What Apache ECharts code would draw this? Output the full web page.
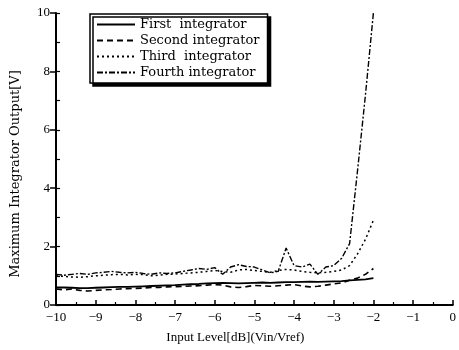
<!DOCTYPE html>
<html>
<head>
<meta charset="utf-8">
<script src="https://cdn.jsdelivr.net/npm/echarts@6/dist/echarts.min.js"></script>
<style>html,body{margin:0;padding:0;background:#fff}#c{width:459px;height:350px}</style>
</head>
<body>
<div id="c"></div>
<script>
const xValues = [-10,-9.8,-9.6,-9.4,-9.2,-9,-8.8,-8.6,-8.4,-8.2,-8,-7.8,-7.6,-7.4,-7.2,-7,-6.8,-6.6,-6.4,-6.2,-6,-5.8,-5.6,-5.4,-5.2,-5,-4.8,-4.6,-4.4,-4.2,-4,-3.8,-3.6,-3.4,-3.2,-3,-2.8,-2.6,-2.4,-2.2,-2];
const firstIntegrator = [0.60,0.60,0.59,0.58,0.58,0.59,0.60,0.61,0.62,0.62,0.63,0.64,0.65,0.66,0.67,0.68,0.70,0.71,0.72,0.74,0.75,0.76,0.75,0.74,0.75,0.76,0.77,0.76,0.77,0.78,0.78,0.79,0.80,0.79,0.80,0.81,0.82,0.84,0.86,0.88,0.92];
const secondIntegrator = [0.55,0.52,0.55,0.50,0.48,0.50,0.52,0.53,0.55,0.56,0.57,0.58,0.60,0.60,0.62,0.63,0.64,0.65,0.66,0.68,0.70,0.68,0.62,0.60,0.63,0.67,0.66,0.64,0.66,0.68,0.70,0.65,0.62,0.64,0.68,0.72,0.76,0.85,0.92,1.05,1.25];
const thirdIntegrator = [1.00,0.98,0.96,0.95,0.97,1.00,1.02,1.04,1.05,1.03,1.05,1.04,1.00,1.02,1.05,1.06,1.08,1.10,1.12,1.15,1.18,1.15,1.12,1.20,1.22,1.18,1.15,1.12,1.18,1.22,1.20,1.15,1.12,1.10,1.12,1.15,1.20,1.35,1.75,2.25,2.90];
const fourthIntegrator = [1.05,1.02,1.05,1.08,1.05,1.10,1.12,1.15,1.12,1.10,1.12,1.08,1.05,1.10,1.08,1.10,1.15,1.20,1.25,1.22,1.28,1.05,1.30,1.38,1.32,1.30,1.20,1.10,1.15,1.95,1.35,1.30,1.40,1.05,1.30,1.35,1.60,2.10,4.60,7.20,10.0];
const seriesNames = ['First  integrator','Second integrator','Third  integrator','Fourth integrator'];

const pair = arr => xValues.map((x, i) => [x, arr[i]]);
const font = 'Liberation Serif';
const wideFont = 'DejaVu Serif';
const chart = echarts.init(document.getElementById('c'));
chart.setOption({
  animation: false,
  backgroundColor: '#fff',
  textStyle: { fontFamily: font, color: '#000' },
  grid: [
    { left: 56, right: 3, top: 13, bottom: 45 },
    { left: 10, right: 403, top: 13, bottom: 45 }
  ],
  legend: {
    orient: 'vertical', left: 90, top: 14,
    itemWidth: 38, itemHeight: 10, itemGap: 3,
    padding: [4, 8, 4, 6],
    borderColor: '#000', borderWidth: 1.5,
    backgroundColor: '#fff',
    shadowColor: '#000', shadowOffsetX: 3, shadowOffsetY: 3, shadowBlur: 0,
    itemStyle: { opacity: 0 },
    textStyle: { fontFamily: wideFont, fontSize: 13, color: '#000' },
    data: seriesNames
  },
  xAxis: [{
    type: 'value', min: -10, max: 0, interval: 1, gridIndex: 0,
    name: 'Input Level[dB](Vin/Vref)', nameLocation: 'middle', nameGap: 26,
    nameTextStyle: { fontFamily: font, fontSize: 13, color: '#000', padding: [0, 38, 0, 0] },
    axisLine: { onZero: false, lineStyle: { color: '#000', width: 2 } },
    axisTick: { inside: true, length: 5, lineStyle: { color: '#000', width: 1.5 } },
    minorTick: { show: true, splitNumber: 2, length: 3, lineStyle: { color: '#000', width: 1.2 } },
    axisLabel: { fontFamily: font, fontSize: 13, color: '#000', margin: 6,
      formatter: v => v < 0 ? '\u2212' + Math.abs(v) : String(v) },
    splitLine: { show: false }
  }, {
    type: 'value', min: -10, max: 0, gridIndex: 1, show: false
  }],
  yAxis: [{
    type: 'value', min: 0, max: 10, interval: 2, gridIndex: 0,
    name: 'Maximum Integrator Output[V]', nameLocation: 'middle', nameGap: 34,
    nameTextStyle: { fontFamily: wideFont, fontSize: 13, color: '#000', padding: [0, 30, 0, 0] },
    axisLine: { show: true, onZero: false, lineStyle: { color: '#000', width: 2 } },
    axisTick: { show: true, length: 6, lineStyle: { color: '#000', width: 1.5 } },
    axisLabel: { fontFamily: font, fontSize: 13, color: '#000', margin: 6 },
    splitLine: { show: false }
  }, {
    type: 'value', min: 0, max: 10, interval: 1, gridIndex: 1, position: 'right',
    axisLine: { show: false },
    axisTick: { show: true, inside: false, length: 4, lineStyle: { color: '#000', width: 1.2 } },
    axisLabel: { show: false },
    splitLine: { show: false }
  }],
  series: [
    { name: seriesNames[0], type: 'line', data: pair(firstIntegrator), symbol: 'none',
      lineStyle: { color: '#000', width: 1.8, type: 'solid' }, itemStyle: { color: '#000' } },
    { name: seriesNames[1], type: 'line', data: pair(secondIntegrator), symbol: 'none',
      lineStyle: { color: '#000', width: 1.6, type: [6, 4] }, itemStyle: { color: '#000' } },
    { name: seriesNames[2], type: 'line', data: pair(thirdIntegrator), symbol: 'none',
      lineStyle: { color: '#000', width: 1.5, type: [2, 3] }, itemStyle: { color: '#000' } },
    { name: seriesNames[3], type: 'line', data: pair(fourthIntegrator), symbol: 'none',
      lineStyle: { color: '#000', width: 1.4, type: [6, 2, 2, 2] }, itemStyle: { color: '#000' } }
  ]
});
</script>
</body>
</html>
